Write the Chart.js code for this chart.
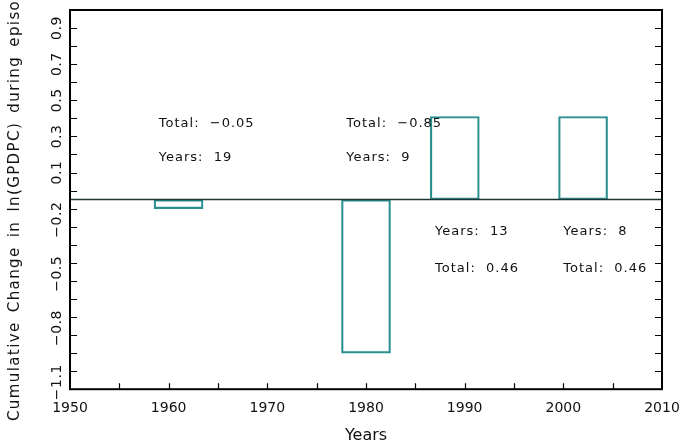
<!DOCTYPE html>
<html>
<head>
<meta charset="utf-8">
<script src="https://cdn.jsdelivr.net/npm/chart.js@4.4.1/dist/chart.umd.min.js"></script>
<style>
  body { margin: 0; background: #fff; }
  canvas { display: block; }
</style>
</head>
<body>
<canvas id="chart_episodes" width="695" height="444"></canvas>
<script>
// episodios: año central, cambio acumulado en ln(GPDPC), duración en años
var episodeYears = [1961, 1980, 1989, 2002];
var episodeTotals = [-0.05, -0.85, 0.46, 0.46];
var episodeLengths = [19, 9, 13, 8];

// eje x
var xTickYears = [1950, 1960, 1970, 1980, 1990, 2000, 2010];
// etiquetas del eje y tal como salen en el grafico original
var yTickValues = [0.95, 0.75, 0.55, 0.35, 0.15, -0.15, -0.45, -0.75, -1.05];
var yTickLabels = ['0.9', '0.7', '0.5', '0.3', '0.1', '\u22120.2', '\u22120.5', '\u22120.8', '\u22121.1'];

var yTitle = 'Cumulative Change in ln(GPDPC) during episodes';
var xTitle = 'Years';

var FONT = '"DejaVu Sans", sans-serif';
var BAR_COLOR = '#2a8f8f';

function fmtTotal(v) {
	return v.toFixed(2).replace('-', '\u2212');
}

// marco, ticks hacia adentro, linea del cero, textos (estilo IDL)
var idlFrame = {
	id: 'idlFrame',
	afterDatasetsDraw: function (chart) {
		var ctx = chart.ctx;
		var a = chart.chartArea;
		var sx = chart.scales.x;
		var sy = chart.scales.y;
		ctx.save();

		// linea del cero
		var y0 = sy.getPixelForValue(0);
		ctx.strokeStyle = '#1d3434';
		ctx.lineWidth = 1.5;
		ctx.beginPath();
		ctx.moveTo(a.left, y0);
		ctx.lineTo(a.right, y0);
		ctx.stroke();

		// textos de cada episodio
		ctx.fillStyle = '#111';
		ctx.font = '13px ' + FONT;
		ctx.letterSpacing = '1px';
		ctx.textAlign = 'left';
		ctx.textBaseline = 'middle';
		for (var i = 0; i < episodeYears.length; i++) {
			var tx = sx.getPixelForValue(episodeYears[i] - 2);
			var total = 'Total:  ' + fmtTotal(episodeTotals[i]);
			var yrs = 'Years:  ' + episodeLengths[i];
			if (episodeTotals[i] < 0) {
				ctx.fillText(total, tx, sy.getPixelForValue(0.42));
				ctx.fillText(yrs, tx, sy.getPixelForValue(0.23));
			} else {
				ctx.fillText(yrs, tx, sy.getPixelForValue(-0.18));
				ctx.fillText(total, tx, sy.getPixelForValue(-0.38));
			}
		}

		// marco
		ctx.strokeStyle = '#000';
		ctx.lineWidth = 2;
		ctx.strokeRect(a.left, a.top, a.right - a.left, a.bottom - a.top);

		// ticks del eje y (izquierda y derecha)
		ctx.lineWidth = 1.2;
		ctx.beginPath();
		for (var v = sy.min + 0.1; v < sy.max - 0.05; v += 0.1) {
			var py = Math.round(sy.getPixelForValue(v)) + 0.5;
			ctx.moveTo(a.left, py);
			ctx.lineTo(a.left + 7, py);
			ctx.moveTo(a.right, py);
			ctx.lineTo(a.right - 7, py);
		}
		// ticks del eje x, cada 5 años
		for (var yr = sx.min + 5; yr < sx.max; yr += 5) {
			var px = Math.round(sx.getPixelForValue(yr)) + 0.5;
			ctx.moveTo(px, a.bottom);
			ctx.lineTo(px, a.bottom - 6);
		}
		ctx.stroke();

		// etiquetas del eje y, rotadas
		ctx.fillStyle = '#111';
		ctx.font = '14px ' + FONT;
		ctx.letterSpacing = '0.5px';
		ctx.textAlign = 'center';
		ctx.textBaseline = 'middle';
		for (var j = 0; j < yTickValues.length; j++) {
			var ly = sy.getPixelForValue(yTickValues[j]);
			if (yTickValues[j] < 0) ly -= 7;
			ctx.save();
			ctx.translate(57, ly);
			ctx.rotate(-Math.PI / 2);
			ctx.fillText(yTickLabels[j], 0, 0);
			ctx.restore();
		}

		// titulo del eje y (queda cortado arriba como en el original)
		ctx.save();
		ctx.font = '15px ' + FONT;
		ctx.letterSpacing = '1.4px';
		ctx.wordSpacing = '3px';
		ctx.textAlign = 'left';
		ctx.translate(15, 421);
		ctx.rotate(-Math.PI / 2);
		ctx.fillText(yTitle, 0, 0);
		ctx.restore();

		ctx.restore();
	}
};

var ctx = document.getElementById('chart_episodes').getContext('2d');
var chart = new Chart(ctx, {
	type: 'bar',
	data: {
		datasets: [{
			data: episodeYears.map(function (yr, i) { return { x: yr, y: episodeTotals[i] }; }),
			backgroundColor: 'rgba(0,0,0,0)',
			borderColor: BAR_COLOR,
			borderWidth: 1.5,
			borderSkipped: false,
			barThickness: 49
		}]
	},
	options: {
		responsive: false,
		devicePixelRatio: 1,
		animation: false,
		layout: { padding: { left: 70, top: 10, right: 33, bottom: 0 } },
		plugins: {
			legend: { display: false },
			tooltip: { enabled: false }
		},
		scales: {
			x: {
				type: 'linear',
				offset: false,
				min: 1950,
				max: 2010,
				afterBuildTicks: function (scale) {
					scale.ticks = xTickYears.map(function (v) { return { value: v }; });
				},
				ticks: {
					color: '#111',
					font: { family: 'DejaVu Sans', size: 14 },
					padding: 11,
					maxRotation: 0,
					autoSkip: false,
					callback: function (value) { return String(value); }
				},
				grid: { display: false, drawTicks: false },
				border: { display: false },
				title: {
					display: true,
					text: xTitle,
					color: '#111',
					font: { family: 'DejaVu Sans', size: 16, lineHeight: 1 },
					padding: { top: 0, bottom: 0 }
				}
			},
			y: {
				display: false,
				min: -1.05,
				max: 1.05
			}
		}
	},
	plugins: [idlFrame]
});
</script>
</body>
</html>
